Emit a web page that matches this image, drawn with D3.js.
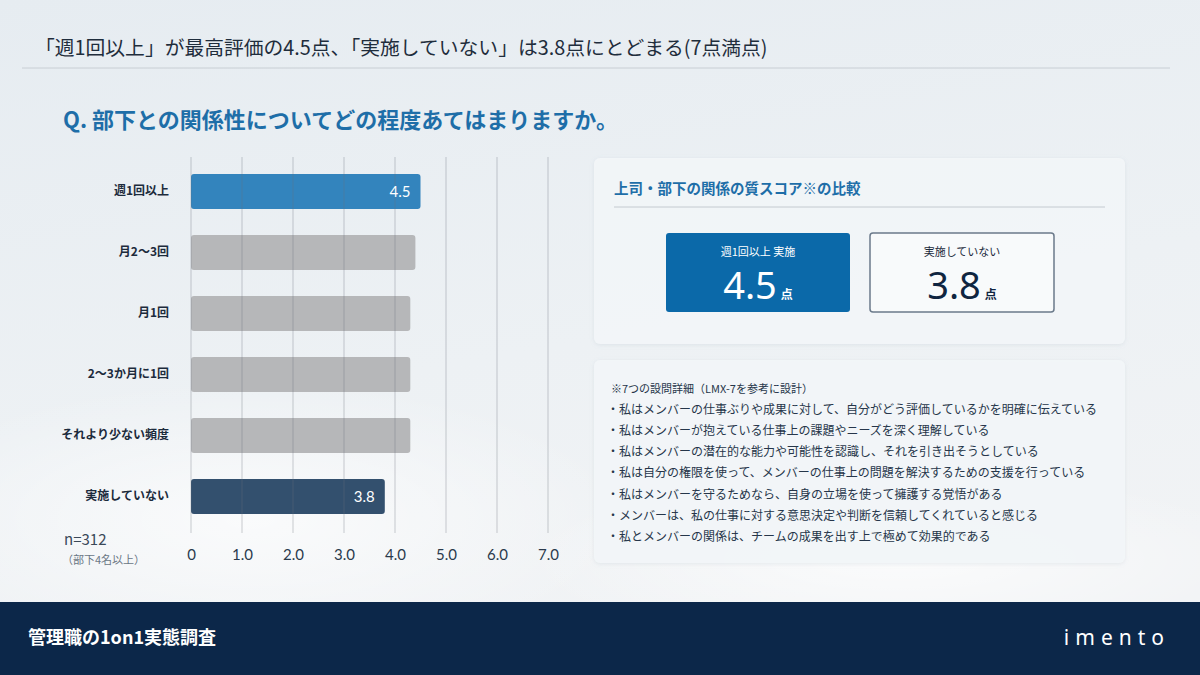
<!DOCTYPE html>
<html><head><meta charset="utf-8">
<script src="https://cdn.jsdelivr.net/npm/d3@7"></script>
<style>
html,body{margin:0;padding:0;width:1200px;height:675px;overflow:hidden;background:#eaeff3;}
text{font-family:"Noto Sans CJK JP","Noto Sans",sans-serif;}
</style></head>
<body><svg id="c" width="1200" height="675"></svg>
<script>
const categories = ["週1回以上","月2〜3回","月1回","2〜3か月に1回","それより少ない頻度","実施していない"];
const scores = [4.5, 4.4, 4.3, 4.3, 4.3, 3.8];
const barColors = ["#3384bd","#b6b7b9","#b6b7b9","#b6b7b9","#b6b7b9","#33506e"];
const showLabel = [true,false,false,false,false,true];
const tickValues = [0,1,2,3,4,5,6,7];
const tickLabels = ["0","1.0","2.0","3.0","4.0","5.0","6.0","7.0"];
const compareLabels = ["週1回以上 実施","実施していない"];
const compareValues = [4.5, 3.8];
const itemLines = [
 "※7つの設問詳細（LMX-7を参考に設計）",
 "・私はメンバーの仕事ぶりや成果に対して、自分がどう評価しているかを明確に伝えている",
 "・私はメンバーが抱えている仕事上の課題やニーズを深く理解している",
 "・私はメンバーの潜在的な能力や可能性を認識し、それを引き出そうとしている",
 "・私は自分の権限を使って、メンバーの仕事上の問題を解決するための支援を行っている",
 "・私はメンバーを守るためなら、自身の立場を使って擁護する覚悟がある",
 "・メンバーは、私の仕事に対する意思決定や判断を信頼してくれていると感じる",
 "・私とメンバーの関係は、チームの成果を出す上で極めて効果的である"
];

const svg = d3.select("#c");
const defs = svg.append("defs");
const bg = defs.append("linearGradient").attr("id","bg").attr("x1",0).attr("y1",0).attr("x2",0.3).attr("y2",1);
bg.append("stop").attr("offset","0%").attr("stop-color","#e6ecf1");
bg.append("stop").attr("offset","60%").attr("stop-color","#edf1f4");
bg.append("stop").attr("offset","100%").attr("stop-color","#f1f3f5");
const rg = defs.append("radialGradient").attr("id","blot");
rg.append("stop").attr("offset","0%").attr("stop-color","#ffffff").attr("stop-opacity",0.7);
rg.append("stop").attr("offset","100%").attr("stop-color","#ffffff").attr("stop-opacity",0);
const sh = defs.append("filter").attr("id","sh").attr("x","-5%").attr("y","-5%").attr("width","110%").attr("height","115%");
sh.append("feDropShadow").attr("dx",0).attr("dy",1).attr("stdDeviation",2).attr("flood-color","#8899aa").attr("flood-opacity",0.18);

svg.append("rect").attr("width",1200).attr("height",675).attr("fill","url(#bg)");
svg.append("ellipse").attr("cx",250).attr("cy",520).attr("rx",380).attr("ry",140).attr("fill","url(#blot)");
svg.append("ellipse").attr("cx",900).attr("cy",560).attr("rx",380).attr("ry",90).attr("fill","url(#blot)");

// title
svg.append("text").attr("x",35).attr("y",55).attr("font-size",19.8).attr("fill","#1f2d3c")
  .text("「週1回以上」が最高評価の4.5点、「実施していない」は3.8点にとどまる(7点満点)");
svg.append("line").attr("x1",22).attr("x2",1170).attr("y1",68).attr("y2",68).attr("stroke","#c8ced4").attr("stroke-width",1);

svg.append("text").attr("x",63).attr("y",128).attr("font-size",22).attr("font-weight",700).attr("fill","#1e6ea8")
  .text("Q. 部下との関係性についてどの程度あてはまりますか。");

// chart
const x = d3.scaleLinear().domain([0,7]).range([191,548]);
const y = d3.scaleBand().domain(categories).range([174,514]).paddingInner(0.426).paddingOuter(0);

const g = svg.append("g");
g.selectAll("rect.bar").data(categories).enter().append("rect").attr("class","bar")
  .attr("x",x(0)).attr("y",d=>y(d)).attr("width",(d,i)=>x(scores[i])-x(0)).attr("height",y.bandwidth())
  .attr("rx",3).attr("fill",(d,i)=>barColors[i]);

const xAxis = d3.axisBottom(x).tickValues(tickValues).tickFormat((d,i)=>tickLabels[i]).tickSize(0);
const ax = svg.append("g").attr("transform","translate(0,549)").call(xAxis);
ax.select(".domain").remove();
ax.selectAll("text").attr("font-size",15).attr("fill","#2a3a4c").attr("dy","0.5em")
  .style("font-family","Lato,'Noto Sans',sans-serif");

g.selectAll("line.grid").data(tickValues).enter().append("line").attr("class","grid")
  .attr("x1",d=>x(d)).attr("x2",d=>x(d)).attr("y1",157).attr("y2",533)
  .attr("stroke","#6a7078").attr("stroke-opacity",0.35).attr("stroke-width",1);

const yAxis = d3.axisLeft(y).tickSize(0);
const ay = svg.append("g").attr("transform","translate(172,0)").call(yAxis);
ay.select(".domain").remove();
ay.selectAll("text").attr("font-size",12).attr("font-weight",700).attr("fill","#1c2b3c").attr("dx",0);

g.selectAll("text.val").data(categories.filter((d,i)=>showLabel[i])).enter().append("text").attr("class","val")
  .attr("x",d=>x(scores[categories.indexOf(d)])-10).attr("y",d=>y(d)+y.bandwidth()/2).attr("dy","0.36em")
  .attr("text-anchor","end").attr("font-size",15).attr("fill","#ffffff")
  .style("font-family","Lato,'Noto Sans',sans-serif")
  .text(d=>scores[categories.indexOf(d)].toFixed(1));

svg.append("text").attr("x",64).attr("y",545).attr("font-size",15).attr("fill","#3a4858").text("n=312");
svg.append("text").attr("x",62).attr("y",564).attr("font-size",11).attr("fill","#6a7684").text("（部下4名以上）");

// panel 1
svg.append("rect").attr("x",594).attr("y",158).attr("width",531).attr("height",186).attr("rx",6)
  .attr("fill","#f3f6f8").attr("fill-opacity",0.92).attr("filter","url(#sh)");
svg.append("text").attr("x",614).attr("y",194).attr("font-size",14.5).attr("font-weight",700).attr("fill","#1e6ea8")
  .text("上司・部下の関係の質スコア※の比較");
svg.append("line").attr("x1",614).attr("x2",1105).attr("y1",207).attr("y2",207).attr("stroke","#c4cad0");

const boxX = [666, 870];
const boxes = svg.selectAll("g.box").data(compareLabels).enter().append("g").attr("class","box")
  .attr("transform",(d,i)=>`translate(${boxX[i]},233)`);
boxes.append("rect").attr("width",184).attr("height",79).attr("rx",3)
  .attr("fill",(d,i)=>i===0?"#0b69a9":"#f8fafb")
  .attr("stroke",(d,i)=>i===0?"none":"#6b7a8b").attr("stroke-width",1.5);
boxes.append("text").attr("x",92).attr("y",23).attr("text-anchor","middle").attr("font-size",11)
  .attr("fill",(d,i)=>i===0?"#ffffff":"#1c2b3c").text(d=>d);
const big = boxes.append("text").attr("x",92).attr("y",66).attr("text-anchor","middle")
  .attr("fill",(d,i)=>i===0?"#ffffff":"#0f2540");
big.append("tspan").attr("font-size",38).style("font-family","'Noto Sans',sans-serif").text((d,i)=>compareValues[i].toFixed(1));
big.append("tspan").attr("font-size",12).attr("font-weight",700).attr("dx",4).text("点");

// panel 2
svg.append("rect").attr("x",594).attr("y",360).attr("width",531).attr("height",203).attr("rx",6)
  .attr("fill","#f3f6f8").attr("fill-opacity",0.92).attr("filter","url(#sh)");
svg.selectAll("text.item").data(itemLines).enter().append("text").attr("class","item")
  .attr("x",(d,i)=>i===0?611:607).attr("y",(d,i)=>393+i*21.1).attr("font-size",(d,i)=>i===0?11:12)
  .attr("fill","#26364a").text(d=>d);

// footer
svg.append("rect").attr("x",0).attr("y",602).attr("width",1200).attr("height",73).attr("fill","#0c2749");
svg.append("text").attr("x",28).attr("y",644).attr("font-size",18).attr("font-weight",700).attr("fill","#ffffff")
  .text("管理職の1on1実態調査");
svg.append("text").attr("x",1170).attr("y",645).attr("text-anchor","end").attr("font-size",21)
  .attr("letter-spacing",6).attr("fill","#ffffff").style("font-family","'Noto Sans',sans-serif").attr("font-weight",400)
  .text("imento");
</script></body></html>
